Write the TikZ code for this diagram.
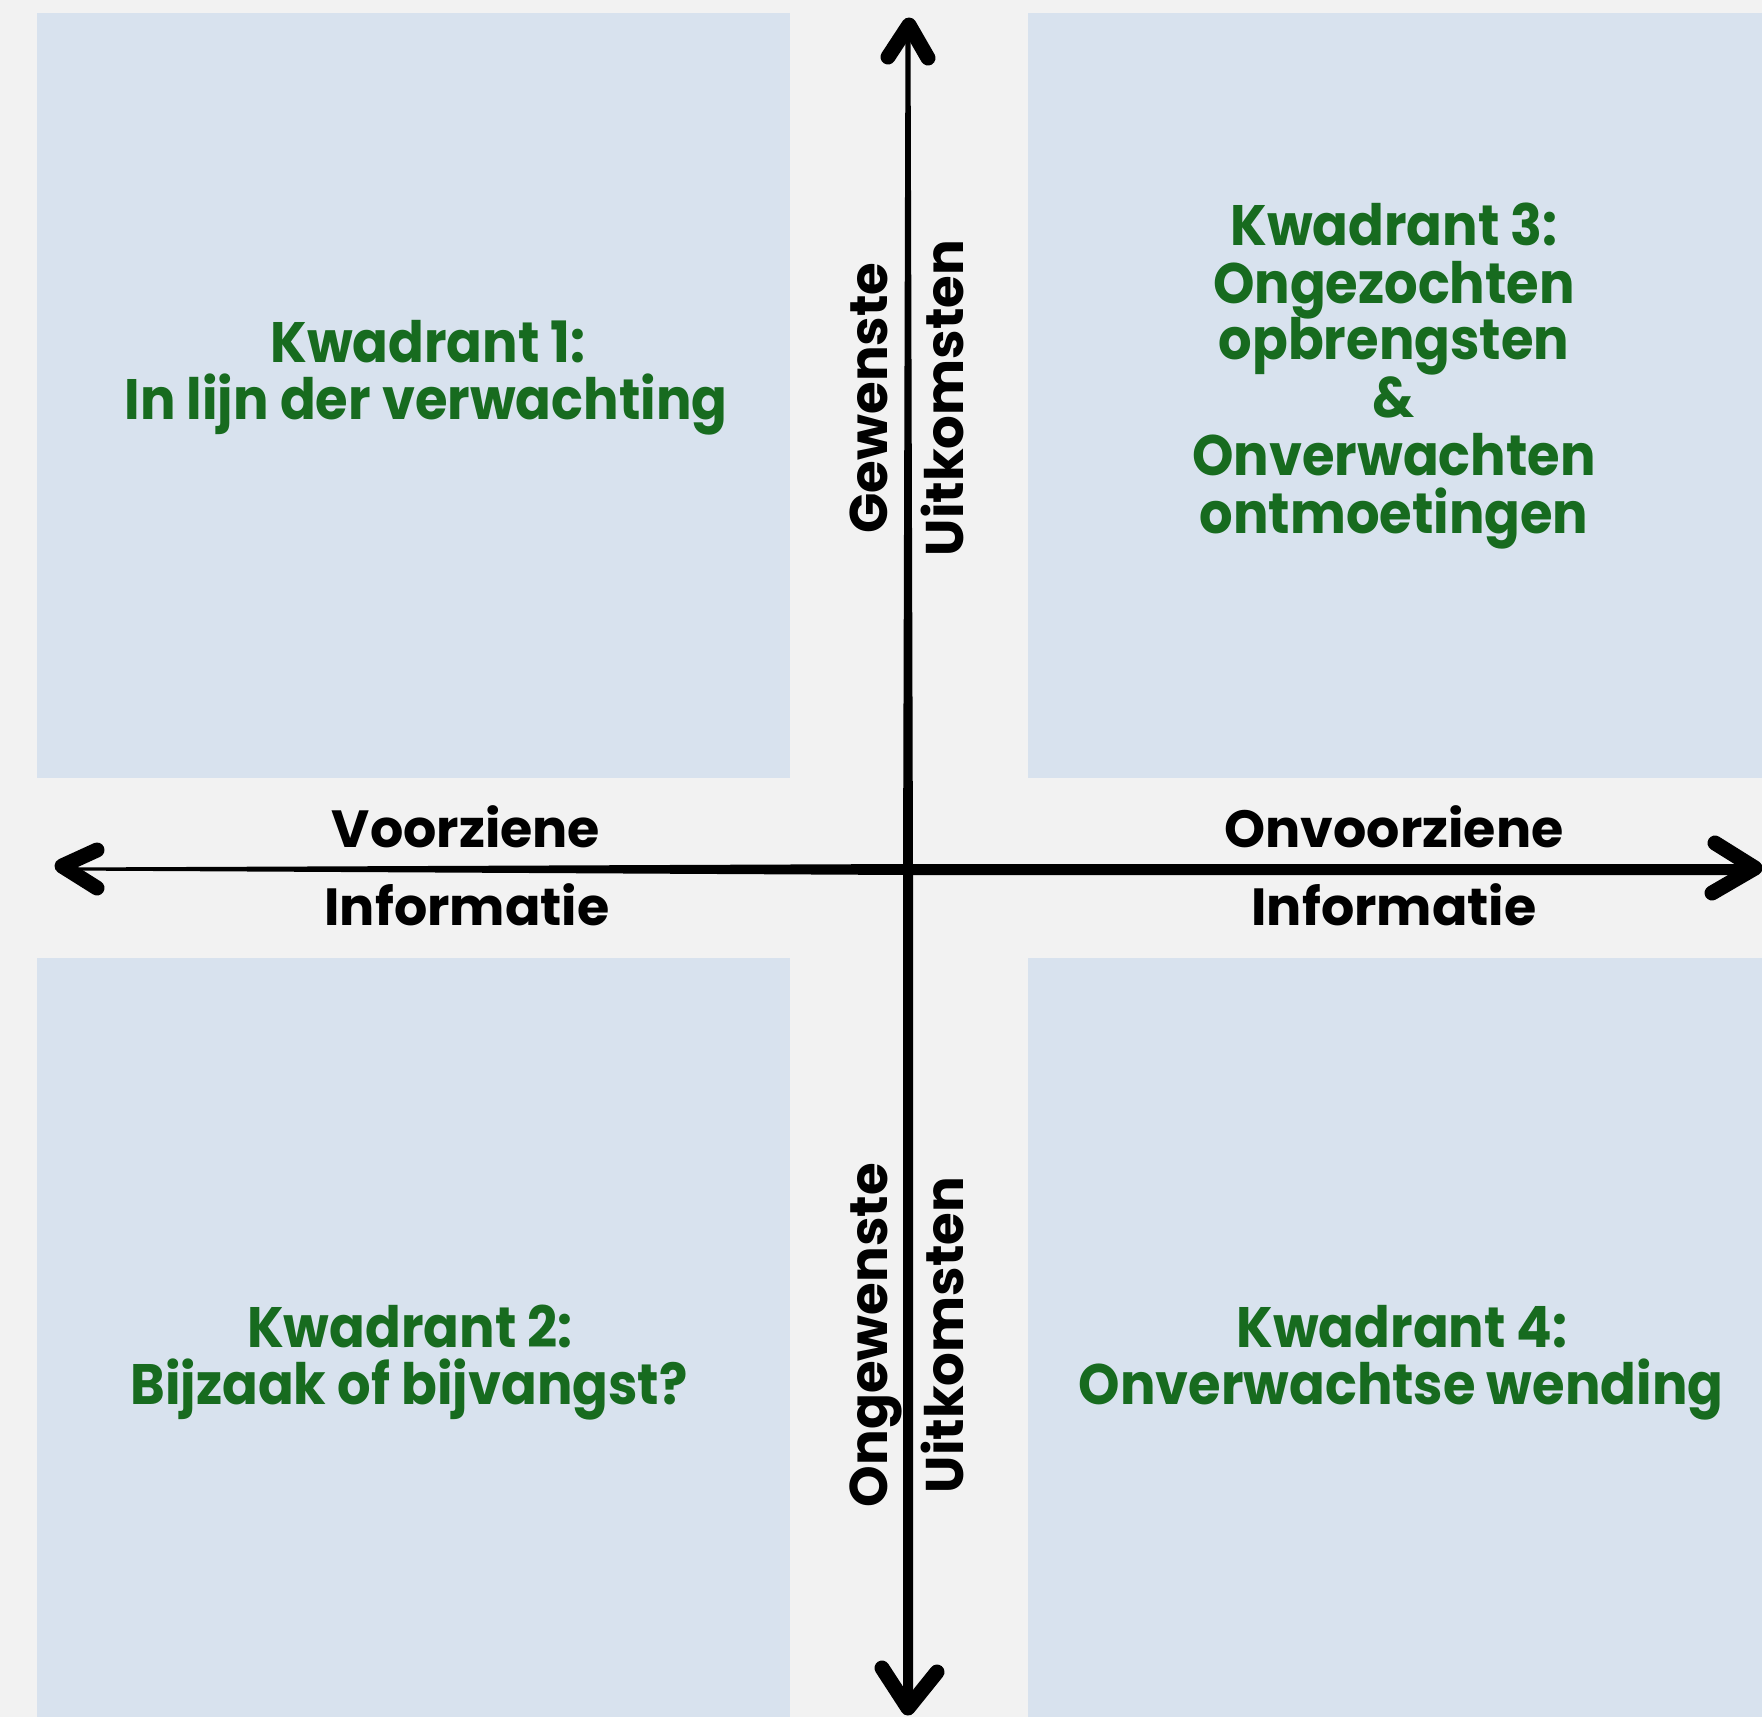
\documentclass[tikz,border=0pt]{standalone}
\usepackage{fontspec}
\setmainfont{Poppins}
\newfontfamily\qfont[FakeStretch=0.925]{Poppins}
\definecolor{bgc}{HTML}{F2F2F2}
\definecolor{boxc}{HTML}{D8E2EE}
\definecolor{greenc}{HTML}{176B1F}
\begin{document}
\begin{tikzpicture}[x=1pt,y=-1pt,
  quad/.style={fill=boxc,draw=none},
  qtext/.style={anchor=base,inner sep=0pt,text=greenc,font=\qfont\fontsize{57}{58}\selectfont\bfseries},
  axtext/.style={anchor=base,inner sep=0pt,text=black,font=\fontsize{52.3}{54}\selectfont\bfseries},
  vtext/.style={anchor=base,inner sep=0pt,text=black,rotate=90,font=\fontsize{53}{55}\selectfont\bfseries},
  chev/.style={draw=black,line width=15pt,line cap=round,line join=round}]
\useasboundingbox (0,0) rectangle (1762,1717);
\fill[bgc] (0,0) rectangle (1762,1717);
% quadrants
\fill[quad] (37,13) rectangle (790,778);
\fill[quad] (1028,13) rectangle (1762,778);
\fill[quad] (37,958) rectangle (790,1717);
\fill[quad] (1028,958) rectangle (1762,1717);
% axes
\coordinate (lt) at (62,866);
\coordinate (rt) at (1755,868);
\coordinate (tt) at (909,25);
\coordinate (bt) at (908,1708);
\coordinate (c) at (908,869.5);
\fill[black] (lt) ++(0,1.5) -- (908,864) -- (1755,864) -- (1755,875) -- (908,875) -- (62,870.5) -- cycle;
\fill[black] (905.5,25) -- (910.5,25) -- (913,869) -- (913,1708) -- (903,1708) -- (903,869) -- cycle;
% arrowheads
\draw[chev] (97,850) -- (lt) -- (97,888);
\draw[chev] (1715,843) -- (rt) -- (1712,893);
\draw[chev] (888,57) -- (tt) -- (928,58);
\draw[chev] (882,1668) -- (bt) -- (937,1672);
% quadrant texts
\node[qtext] (q1a) at (428,362) {Kwadrant 1:};
\node[qtext] (q1b) at (426,419) {In lijn der verwachting};
\node[qtext] (q3a) at (1394,245) {Kwadrant 3:};
\node[qtext] (q3b) at (1394,303) {Ongezochten};
\node[qtext] (q3c) at (1394,359) {opbrengsten};
\node[qtext] (q3d) at (1394,417) {\&};
\node[qtext] (q3e) at (1394,475) {Onverwachten};
\node[qtext] (q3f) at (1394,533) {ontmoetingen};
\node[qtext] (q2a) at (410,1347) {Kwadrant 2:};
\node[qtext] (q2b) at (409,1404) {Bijzaak of bijvangst?};
\node[qtext] (q4a) at (1402,1347) {Kwadrant 4:};
\node[qtext] (q4b) at (1401,1404) {Onverwachtse wending};
% axis labels
\node[axtext] (hl1) at (466,847) {Voorziene};
\node[axtext] (hl2) at (467,925) {Informatie};
\node[axtext] (hr1) at (1394,847) {Onvoorziene};
\node[axtext] (hr2) at (1394,925) {Informatie};
\node[vtext] (vt1) at (887,398) {Gewenste};
\node[vtext] (vt2) at (963,398) {Uitkomsten};
\node[vtext] (vb1) at (887,1335) {Ongewenste};
\node[vtext] (vb2) at (963,1335) {Uitkomsten};
\end{tikzpicture}
\end{document}
